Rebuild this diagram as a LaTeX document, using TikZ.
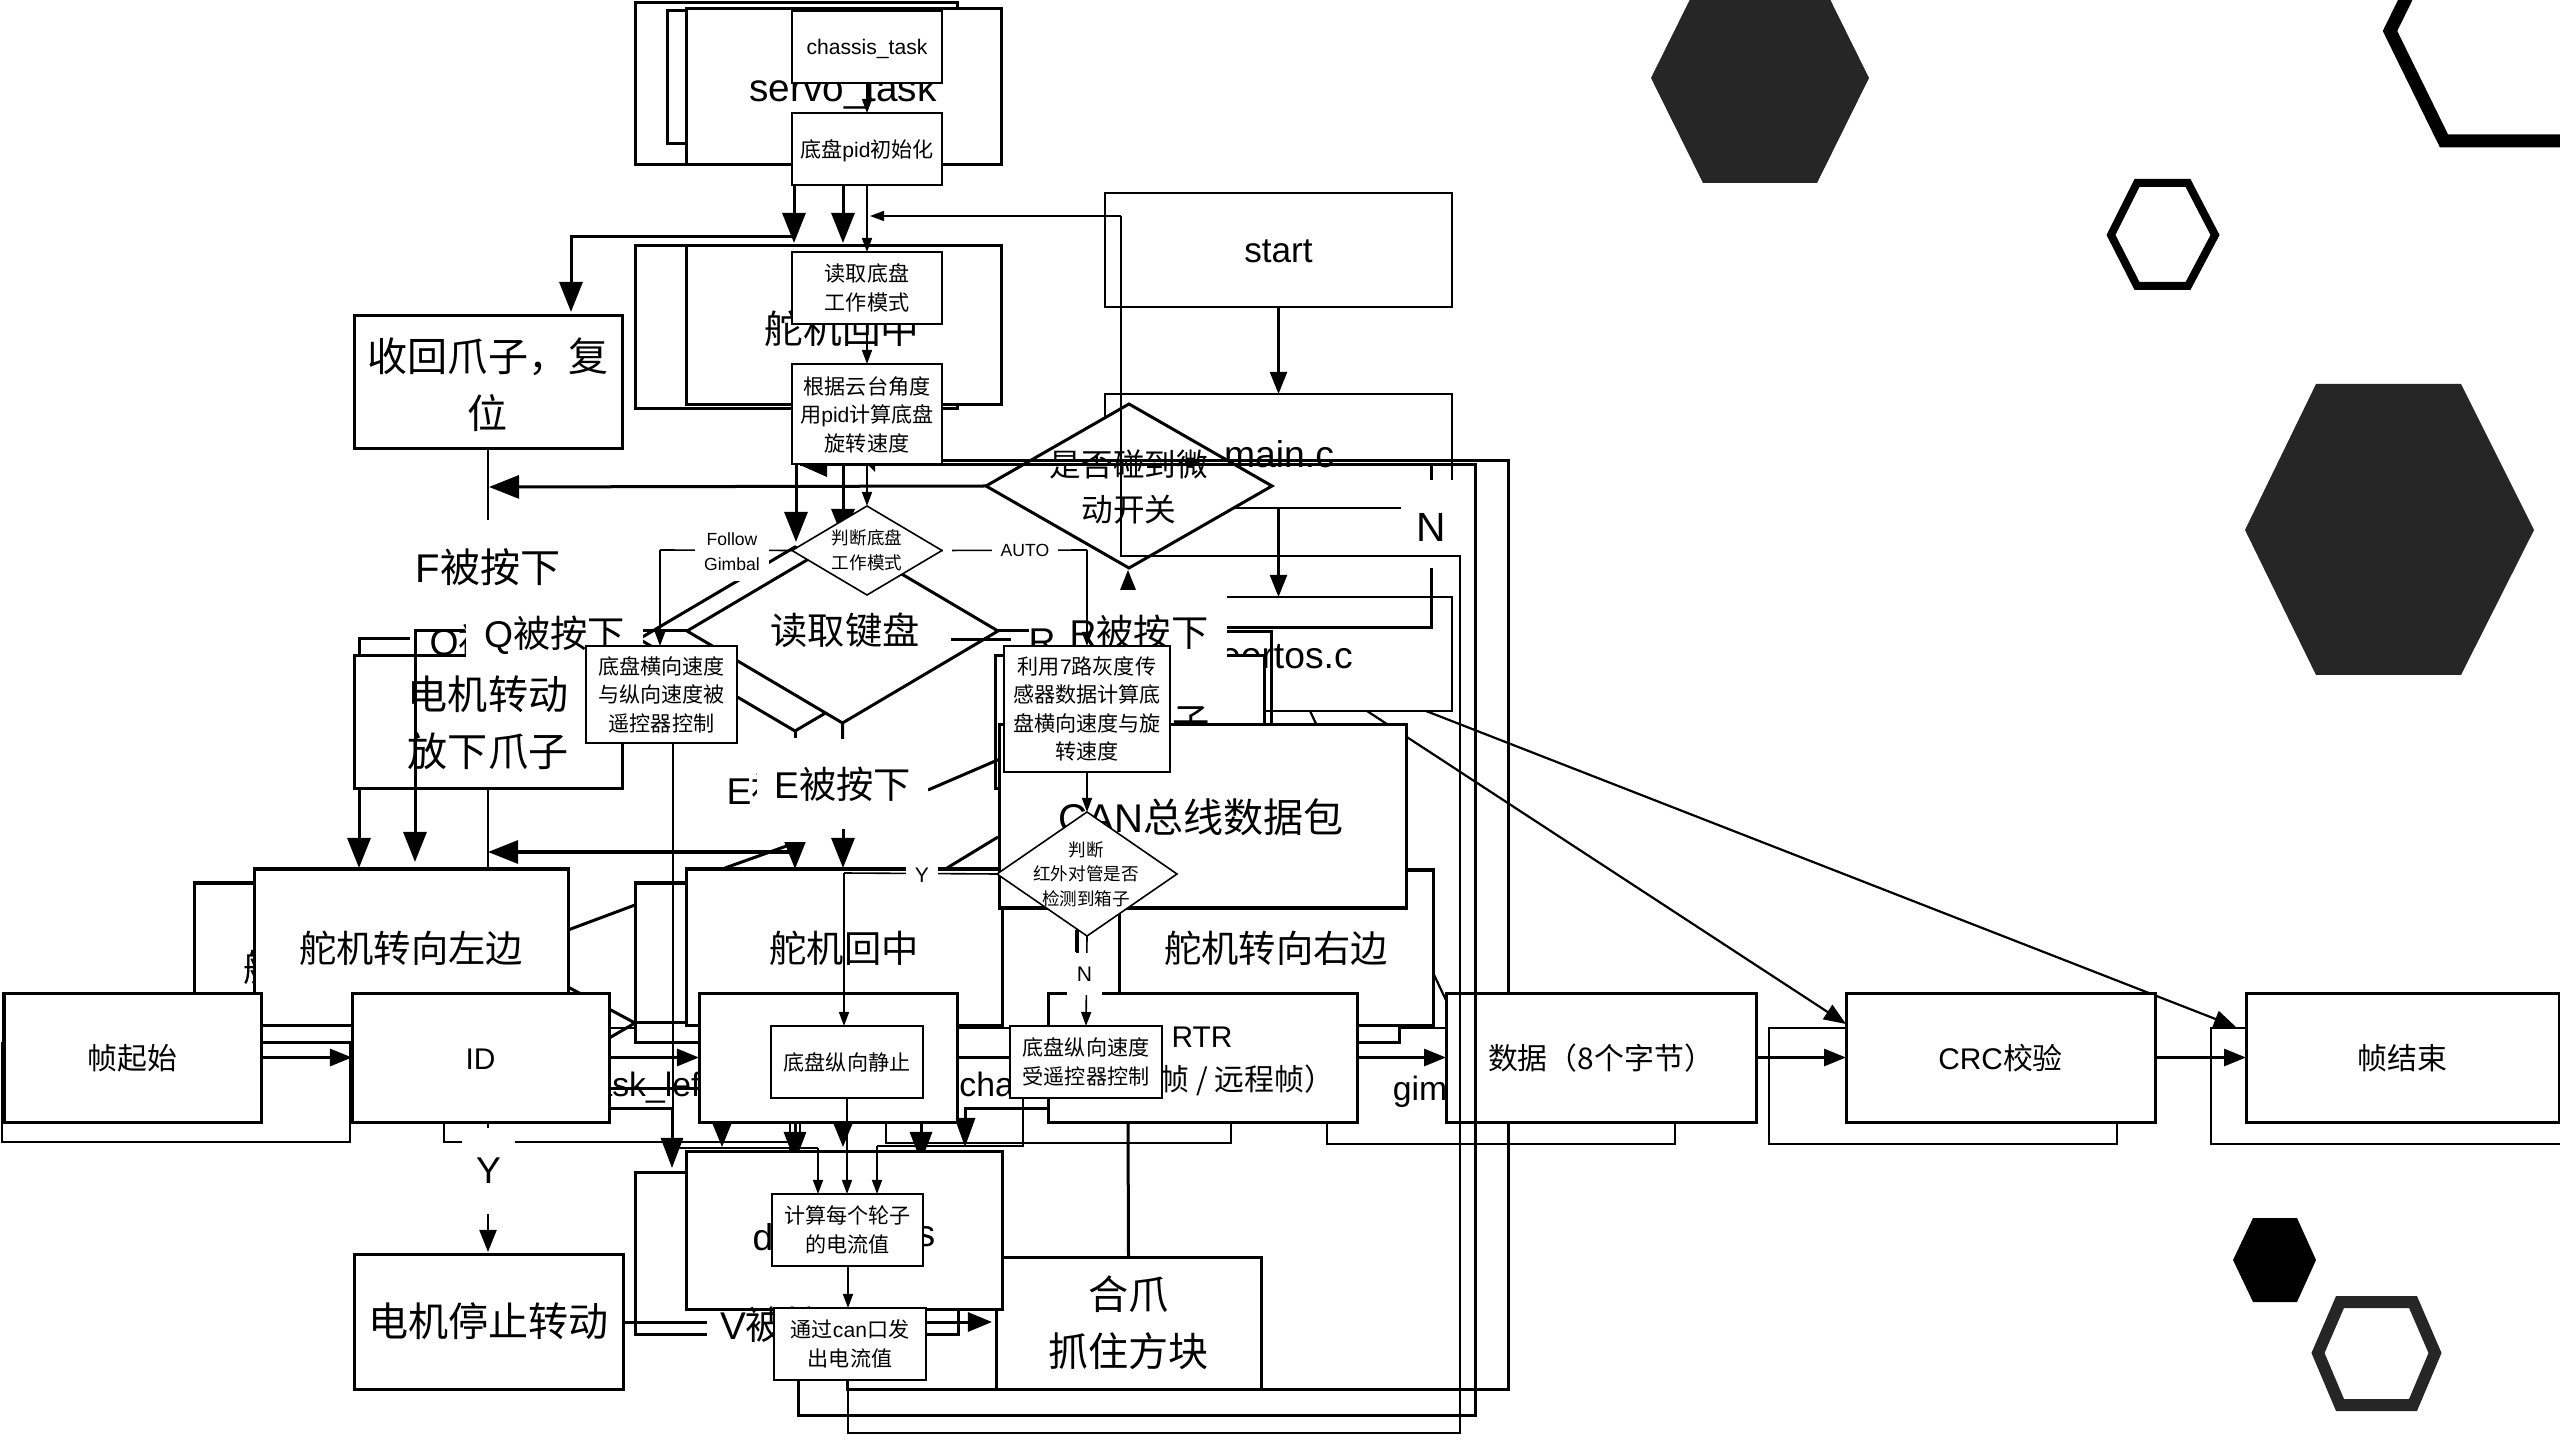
\documentclass[tikz,border=0pt]{standalone}
\usepackage{fontspec}
\setmainfont{Liberation Sans}
\newfontfamily\cjk{Noto Sans CJK SC}
\usetikzlibrary{arrows.meta,shapes.geometric}

\newcommand{\zh}[1]{{\cjk #1}}
% strut that pushes a single line of text a little lower in its box
\newcommand{\dn}[1]{\rule{0pt}{#1}}
% block from two corners, in pixel units
\newcommand{\blk}[7]{%
  \pgfmathsetmacro{\bw}{#5-#3}\pgfmathsetmacro{\bh}{#6-#4}%
  \node[#1,minimum width=\bw*0.01cm,minimum height=\bh*0.01cm] (#2) at ({(#3+#5)/2},{(#4+#6)/2}) {#7};}

\tikzset{
  tk/.style={line width=0.03cm},
  tn/.style={line width=0.016cm},
  md/.style={line width=0.022cm},
  tkbox/.style={draw,fill=white,tk,inner sep=0pt,outer sep=0pt,align=center},
  tnbox/.style={draw,fill=white,tn,inner sep=0pt,outer sep=0pt,align=center},
  bigtxt/.style={font=\fontsize{10.6}{16.2}\selectfont,align=center},
  hgtxt/.style={font=\fontsize{11.4}{16.2}\selectfont,align=center},
  frmtxt/.style={font=\fontsize{8.5}{16}\selectfont,align=center},
  smltxt/.style={font=\fontsize{6}{8.1}\selectfont,align=center},
  tnytxt/.style={font=\fontsize{5}{7}\selectfont,align=center},
  mask/.style={fill=white,inner sep=0pt,outer sep=0pt},
  big/.style={-{Triangle[length=0.3cm,width=0.23cm]}},
  mid/.style={-{Triangle[length=0.22cm,width=0.17cm]}},
  low/.style={-{Triangle[length=0.24cm,width=0.19cm]}},
  lit/.style={-{Triangle[length=0.14cm,width=0.1cm]}},
}

\begin{document}
\begin{tikzpicture}[x=0.01cm,y=-0.01cm]
  \clip (0,0) rectangle (2560,1440);

  % hexagons
  \fill[black!85] (1651,78) -- (1703,-27) -- (1817,-27) -- (1869,78) -- (1817,183) -- (1703,183) -- cycle;
  \fill[black!85] (2245,530) -- (2316,384) -- (2461,384) -- (2534,530) -- (2461,675) -- (2316,675) -- cycle;
  \fill[black] (2233,1260) -- (2253,1218) -- (2297,1218) -- (2316,1260) -- (2297,1302) -- (2253,1302) -- cycle;
  \draw[black,line width=0.13cm] (2390,31) -- (2444,-79) -- (2660,-79) -- (2714,31) -- (2660,141) -- (2444,141) -- cycle;
  \draw[black,line width=0.08cm] (2111,235) -- (2137,183) -- (2188,183) -- (2215,235) -- (2188,286) -- (2137,286) -- cycle;
  \draw[black!85,line width=0.12cm] (2318,1353) -- (2340,1302) -- (2413,1302) -- (2435,1353) -- (2413,1405) -- (2340,1405) -- cycle;

  % task boxes behind the frame row
  \blk{tkbox,md}{rtaska}{2}{1043}{350}{1142}{}
  \blk{tkbox,md}{rtaskb}{444}{1028}{800}{1142}{}
  \blk{tkbox,md}{rtaskc}{886}{1028}{1231}{1143}{}
  \blk{tkbox,md}{rtaskd}{1327}{1028}{1675}{1144}{}
  \blk{tkbox,md}{rtaske}{1769}{1028}{2117}{1144}{}
  \blk{tkbox,md}{rtaskf}{2211}{1028}{2600}{1144}{}
  \node[bigtxt,font=\fontsize{9.6}{12}\selectfont] (tsliver) at (252,1090) {c};
  \node[bigtxt,font=\fontsize{9.6}{12}\selectfont] (tleft) at (647,1088) {task\_left};
  \node[bigtxt,font=\fontsize{9.6}{12}\selectfont] (tchas) at (1056,1088) {chassis\_task};
  \node[bigtxt,font=\fontsize{9.6}{12}\selectfont] (tgim) at (1483,1092) {gimbal\_task};

  % rtos start-up chain
  \blk{tkbox,md}{start}{1105}{193}{1452}{307}{\dn{0.25cm}\fontsize{10}{12}\selectfont start}
  \blk{tkbox,md}{mainc}{1105}{394}{1452}{508}{}
  \node[bigtxt] (mainctxt) at (1279,454) {main.c};
  \blk{tkbox,md}{rtos}{1105}{597}{1452}{711}{}
  \node[bigtxt] (rtostxt) at (1275,655) {freertos.c};
  \draw[md,mid] (start.south) -- (mainc.north);
  \draw[md,mid] (mainc.south) -- (rtos.north);
  \draw[md] (1310,711) -- (1460,1030);
  \draw[md,mid] (1367,711) -- (1846,1024);
  \draw[md,mid] (1426,711) -- (2236,1027);

  % servo task
  \blk{tkbox}{srvback}{635}{3}{957}{165}{}
  \blk{tkbox}{srvmid}{667}{11}{900}{144}{}
  \blk{tkbox}{servo}{686}{9}{1001}{165}{}
  \node[bigtxt,font=\fontsize{11}{14}\selectfont] (servotxt) at (843,91) {servo\_task};
  \blk{tkbox}{cntback}{635}{246}{957}{409}{}
  \blk{tkbox}{centre}{686}{246}{1001}{405}{}
  \node[bigtxt,font=\fontsize{11}{14}\selectfont] (centretxt) at (842,329) {\zh{舵机回中}};
  \draw[tk,big] (794,165) -- (794,243);
  \draw[tk,big] (843,165) -- (843,243);
  \draw[tk,big] (794,237) -- (571,237) -- (571,312);
  \blk{tkbox,hgtxt}{retract}{354}{316}{622}{449}{\dn{0.38cm}\zh{收回爪子，复}\\\zh{位}}

  % keyboard check
  \draw[tk,big] (796,405) -- (796,542);
  \draw[tk,big] (843,405) -- (843,539);
  \blk{tkbox,diamond,aspect=1.7}{kbback}{639}{547}{951}{731}{}
  \blk{tkbox,diamond,aspect=1.7}{kbfront}{687}{539}{998}{723}{}
  \node[bigtxt] (kbtxt) at (845,630) {\zh{读取键盘}};
  \draw[tk] (kbfront.west) -- (643,631);
  \draw[tk] (kbfront.east) -- (1060,631);
  \draw[tk] (951,640) -- (1011,640);

  % motor box on the right
  \node[bigtxt,mask] (rback) at (1098,640) {R\zh{被按下}};
  \blk{tkbox}{motorr}{995}{656}{1264}{789}{}
  \node[bigtxt] (clawtxt) at (1191,723) {\zh{子}};
  \draw[tk] (1227,632) -- (1271,632) -- (1271,725);
  \draw[md,mid] (1128,1257) -- (1128,570);
  \node[mask,minimum width=1.71cm,minimum height=0.9cm] (rmask) at (1141.5,635) {};
  \node[bigtxt] (rfront) at (1139,632) {R\zh{被按下}};
  \draw[tk] (1431,463) -- (1431,628) -- (1227,628);
  \node[mask,minimum width=0.59cm,minimum height=0.88cm] (nmask) at (1430.5,524) {};
  \node[bigtxt,font=\fontsize{11.6}{14}\selectfont] (ntxt) at (1431,527) {N};

  % limit switch diamond
  \blk{tkbox,diamond,aspect=1.74}{switch}{986}{404}{1272}{568}{}
  \node[bigtxt,font=\fontsize{9}{12.6}\selectfont] (switchtxt) at (1129,487) {\zh{是否碰到微}\\\zh{动开关}};
  \draw[tk,big] (switch.west) -- (489,487);

  % Q and F branch
  \node[bigtxt,mask,minimum height=0.46cm] (qback) at (500,643) {Q\zh{被按下}};
  \draw[tk] (410,639) -- (359,639) -- (359,789);
  \draw[md] (retract.south) -- (488,656);
  \node[hgtxt,mask,minimum width=1.52cm,minimum height=0.94cm] (flabel) at (488,567) {F\zh{被按下}};
  \blk{tkbox,hgtxt}{motorl}{354}{656}{622}{789}{\zh{电机转动}\\\zh{放下爪子}}
  \draw[tk,big] (465,631) -- (415,631) -- (415,862);
  \node[bigtxt,mask,minimum width=1.77cm,minimum height=0.5cm] (qfront) at (554.5,635) {Q\zh{被按下}};

  % servo turn boxes
  \draw[tk] (568,930) -- (635,905);
  \draw[tk] (568,987) -- (635,1023);
  \draw[tk] (568,1062) -- (635,1023);
  \draw[tk] (1000,759) -- (928,790);
  \draw[tk] (998,837) -- (947,868);
  \blk{tkbox}{leftb}{194}{883}{516}{1042}{}
  \node[bigtxt] (leftbtxt) at (355,967) {\zh{舵机转向左边}};
  \blk{tkbox,bigtxt}{leftf}{254}{869}{568}{1025}{\dn{0.34cm}\zh{舵机转向左边}}
  \blk{tkbox}{cntb}{635}{883}{957}{1042}{}
  \blk{tkbox,bigtxt}{cntf}{686}{869}{1002}{1025}{\dn{0.34cm}\zh{舵机回中}}
  \blk{tkbox}{rightb}{1077}{883}{1399}{1042}{}
  \blk{tkbox,bigtxt}{rightf}{1119}{870}{1433}{1025}{\dn{0.34cm}\zh{舵机转向右边}}
  \draw[tk] (635,1022) -- (686,1022);
  \draw[tk,big] (motorl.south -| 359,0) -- (359,868);
  \draw[md] (motorl.south) -- (488,869);

  % E branch
  \draw[tk,big] (795,731) -- (795,869);
  \draw[tk] (795,843) -- (725,868);
  \draw[tk,big] (795,852) -- (488,852);
  \node[bigtxt,mask,minimum width=1.66cm,minimum height=1.04cm] (eback) at (795,790) {\raisebox{-0.25cm}{E\zh{被按下}}};
  \draw[tk] (kbfront.south) -- (843,826);
  \draw[tk,big] (843,800) -- (843,868);
  \node[bigtxt,mask,minimum width=1.71cm,minimum height=0.9cm] (efront) at (842.5,784) {E\zh{被按下}};

  % lines into the driver box
  \draw[tk] (610,1088) -- (699,1088);
  \draw[tk,-{Triangle[length=0.3cm,width=0.22cm]}] (610,1108) -- (672,1108) -- (672,1168);
  \draw[tk,-{Triangle[length=0.29cm,width=0.2cm]}] (1048,1108) -- (965,1108) -- (965,1147);
  \draw[md,low] (722,1115) -- (722,1147);
  \draw[tk,-{Triangle[length=0.3cm,width=0.22cm]}] (795,1115) -- (795,1162);
  \draw[md] (790,1115) -- (790,1150);
  \draw[md,low] (843,1115) -- (843,1147);
  \draw[tk,-{Triangle[length=0.3cm,width=0.22cm]}] (921,1115) -- (921,1162);
  \blk{tkbox,hgtxt}{grip}{996}{1257}{1261}{1389}{\zh{合爪}\\\zh{抓住方块}}
  \draw[tk] (grip.north) -- (1128,1120);
  \blk{tkbox}{dbback}{635}{1172}{958}{1334}{}
  \blk{tkbox}{dbus}{686}{1151}{1002}{1309}{}
  \node[bigtxt] (dbd) at (763,1237) {d};
  \node[bigtxt] (dbs) at (926,1237) {s};
  \draw[tk,low] (926,1322) -- (992,1322);

  % stop branch
  \draw[md,mid] (488,1122) -- (488,1252);
  \node[bigtxt,mask,minimum width=0.53cm,minimum height=0.86cm] (ylabel) at (488.5,1171) {Y};
  \blk{tkbox,hgtxt}{stop}{354}{1254}{623}{1389}{\zh{电机停止转动}}
  \draw[tk] (stop.east |- 623,1322) -- (707,1322);
  \node[mask,minimum width=0.7cm,minimum height=0.34cm] (vmask) at (742,1328) {};
  \node[bigtxt,font=\fontsize{11}{14}\selectfont] (vlabel) at (791,1325) {V\zh{被按下}};

  % return path on the outside
  \draw[tk] (847,1380) -- (847,1389) -- (1508,1389) -- (1508,461) -- (800,461);

  % can frame layout
  \blk{tkbox}{canpkg}{999}{725}{1406}{908}{}
  \node[bigtxt,font=\fontsize{11.4}{14}\selectfont] (canpkgtxt) at (1201,817) {CAN\zh{总线数据包}};
  \blk{tkbox,frmtxt}{fstart}{4}{993}{261}{1122}{\dn{0.26cm}\zh{帧起始}}
  \blk{tkbox,frmtxt}{fid}{352}{993}{609}{1122}{\dn{0.23cm}ID}
  \blk{tkbox,frmtxt}{fide}{699}{993}{957}{1122}{}
  \blk{tkbox,frmtxt}{frtr}{1048}{993}{1357}{1122}{}
  \node[frmtxt,font=\fontsize{8.5}{12.2}\selectfont] (frtrtxt) at (1202,1061) {RTR\\\zh{（数据帧 / 远程帧）}};
  \blk{tkbox,frmtxt}{fdata}{1446}{993}{1756}{1122}{\dn{0.26cm}\zh{数据（8个字节）}}
  \blk{tkbox,frmtxt}{fcrc}{1846}{993}{2155}{1122}{\dn{0.26cm}CRC\zh{校验}}
  \blk{tkbox,frmtxt}{fend}{2246}{993}{2559}{1122}{\dn{0.26cm}\zh{帧结束}}
  \draw[tk,mid] (fstart.east) -- (fid.west);
  \draw[tk,mid] (fid.east) -- (fide.west);
  \draw[tk,mid] (fide.east) -- (frtr.west);
  \draw[tk,mid] (frtr.east) -- (fdata.west);
  \draw[tk,mid] (fdata.east) -- (fcrc.west);
  \draw[tk,mid] (fcrc.east) -- (fend.west);

  % chassis task flow
  \draw[tk] (798,1380) -- (798,1415) -- (1475,1415) -- (1475,465) -- (800,465);
  \fill (800,465) -- (827,465) -- (827,477) -- cycle;
  \fill (868,465) -- (875,465) -- (875,472) -- cycle;
  \blk{tnbox,smltxt}{chassis}{792}{11}{942}{83}{\dn{0.2cm}chassis\_task}
  \blk{tnbox,smltxt}{pidinit}{792}{113}{942}{185}{\dn{0.22cm}\zh{底盘}pid\zh{初始化}}
  \blk{tnbox,smltxt}{readmode}{792}{252}{942}{324}{\zh{读取底盘}\\\zh{工作模式}}
  \blk{tnbox,smltxt}{calcrot}{792}{364}{942}{464}{\dn{0.19cm}\zh{根据云台角度}\\\zh{用}pid\zh{计算底盘}\\\zh{旋转速度}}
  \blk{tnbox,diamond,aspect=1.66}{modesw}{792}{506}{942}{595}{}
  \node[tnytxt] (modetxt) at (867,550) {\zh{判断底盘}\\\zh{工作模式}};
  \blk{tnbox,smltxt}{manual}{586}{646}{737}{743}{\zh{底盘横向速度}\\\zh{与纵向速度被}\\\zh{遥控器控制}}
  \blk{tnbox,smltxt}{gray}{1004}{646}{1170}{772}{\zh{利用}7\zh{路灰度传}\\\zh{感器数据计算底}\\\zh{盘横向速度与旋}\\\zh{转速度}}
  \blk{tnbox,diamond,aspect=1.45}{boxsw}{997}{812}{1177}{936}{}
  \node[tnytxt] (boxtxt) at (1086,874) {\zh{判断}\\\zh{红外对管是否}\\\zh{检测到箱子}};
  \blk{tnbox,smltxt}{hold}{771}{1026}{923}{1098}{\zh{底盘纵向静止}}
  \blk{tnbox,smltxt}{remote}{1010}{1026}{1162}{1098}{\zh{底盘纵向速度}\\\zh{受遥控器控制}}
  \blk{tnbox,smltxt}{current}{772}{1194}{923}{1266}{\zh{计算每个轮子}\\\zh{的电流值}}
  \blk{tnbox,smltxt}{cansend}{774}{1308}{926}{1380}{\zh{通过}can\zh{口发}\\\zh{出电流值}}
  \draw[tn,lit] (chassis) -- (pidinit);
  \draw[tn,lit] (pidinit) -- (readmode);
  \draw[tn,lit] (readmode) -- (calcrot);
  \draw[tn,lit] (calcrot) -- (modesw);
  \draw[tn,lit] (gray) -- (boxsw);
  \draw[tn,lit] (current.south -| 848,0) -- (cansend.north -| 848,0);
  \draw[tn] (modesw.west) -- (660,550);
  \draw[tn,lit] (660,550) -- (manual.north -| 660,0);
  \draw[tn] (modesw.east) -- (1087,550);
  \draw[tn,lit] (1087,550) -- (gray.north -| 1087,0);
  \node[tnytxt,mask,minimum width=0.74cm,minimum height=0.57cm] (follow) at (732,552) {Follow\\Gimbal};
  \node[mask,minimum width=0.09cm,minimum height=0.3cm] (autogap) at (947,550) {};
  \node[tnytxt,mask,minimum width=0.66cm,minimum height=0.24cm] (auto) at (1025,550) {AUTO};
  \draw[tn] (boxsw.west) -- (844,873);
  \draw[tn,lit] (844,873) -- (hold.north -| 844,0);
  \node[tnytxt,mask,font=\fontsize{6}{7}\selectfont,minimum width=0.32cm,minimum height=0.3cm] (ymark) at (922,875) {Y};
  \draw[tn] (1076,930) -- (1076,952);
  \draw[tn,lit] (boxsw.south) -- (remote.north);
  \node[tnytxt,mask,font=\fontsize{6}{7}\selectfont,minimum width=0.35cm,minimum height=0.42cm] (nmark) at (1084.5,974) {N};
  \draw[tn] (manual.south -| 673,0) -- (673,1148) -- (818,1148);
  \draw[tn,lit] (818,1148) -- (current.north -| 818,0);
  \draw[tn,lit] (hold.south -| 847,0) -- (current.north -| 847,0);
  \draw[tn] (remote.south -| 1023,0) -- (1023,1146) -- (877,1146);
  \draw[tn,lit] (877,1146) -- (current.north -| 877,0);
  \draw[tn] (cansend.south -| 848,0) -- (848,1433) -- (1460,1433) -- (1460,556) -- (1121,556) -- (1121,216);
  \draw[tn,lit] (1121,216) -- (870,216);
\end{tikzpicture}
\end{document}
